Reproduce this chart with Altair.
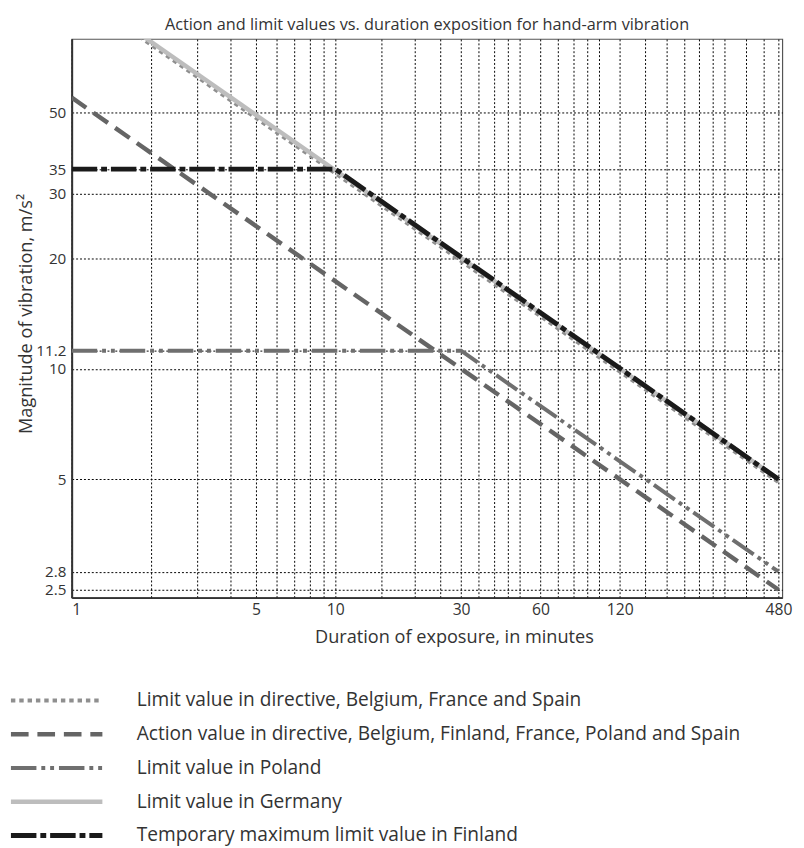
import altair as alt
import pandas as pd

FONT = "Open Sans"
TEXT_COLOR = "#333333"

TITLE = "Action and limit values vs. duration exposition for hand-arm vibration"
X_TITLE = "Duration of exposure, in minutes"
Y_TITLE = "Magnitude of vibration,  m/s²"

series_names = [
    "Limit value in directive, Belgium, France and Spain",
    "Action value in directive, Belgium, Finland, France, Poland and Spain",
    "Limit value in Poland",
    "Limit value in Germany",
    "Temporary maximum limit value in Finland",
]

# values (minutes, m/s²)
directive_t = [1.8, 480]
directive_a = [82.0, 5.0]
action_t = [1, 480]
action_a = [54.8, 2.5]
poland_t = [1, 30, 480]
poland_a = [11.2, 11.2, 2.8]
germany_t = [1.8, 480]
germany_a = [82.0, 5.0]
finland_t = [1, 10, 480]
finland_a = [35.0, 35.0, 5.0]

x_grid = [1, 2, 3, 4, 5, 6, 7, 8, 9, 10, 15, 20, 25, 30, 35, 40, 45, 50, 60, 70,
          80, 90, 100, 120, 150, 180, 210, 240, 270, 300, 360, 420, 480]
x_labels = [1, 5, 10, 30, 60, 120, 480]
y_ticks = [2.5, 2.8, 5, 10, 11.2, 20, 30, 35, 50]

# styles (kept apart from data)
styles = [
    dict(color="#8f8f8f", width=4, dash=[4.5, 4], yOffset=3),
    dict(color="#656565", width=4.5, dash=[18, 9]),
    dict(color="#6f6f6f", width=4, dash=[26, 5, 4, 5, 4, 5]),
    dict(color="#bdbdbd", width=4.5, dash=None),
    dict(color="#1a1a1a", width=5, dash=[26, 4, 6, 4]),
]
draw_order = [0, 3, 1, 2, 4]

rows = []
for name, ts, vs in zip(series_names,
                        [directive_t, action_t, poland_t, germany_t, finland_t],
                        [directive_a, action_a, poland_a, germany_a, finland_a]):
    for t, a in zip(ts, vs):
        rows.append({"series": name, "t": t, "a": a})
df = pd.DataFrame(rows)

label_list = "[" + ",".join(str(v) for v in x_labels) + "]"
x_axis = alt.Axis(
    values=x_grid, format="d",
    labelExpr=f"indexof({label_list}, datum.value) >= 0 ? datum.label : ''",
    title=X_TITLE, titleFont=FONT, titleFontSize=18.5, titleFontWeight="normal",
    titleColor=TEXT_COLOR, titleX=390, titleY=40, titleBaseline="middle", titleAlign="center",
    labelFont=FONT, labelFontSize=16, labelColor=TEXT_COLOR, labelPadding=4,
    labelOverlap=False, ticks=False, tickSize=0,
    grid=True, gridDash=[2, 2], gridColor="#000000", gridWidth=1,
    domainColor="#333333", domainWidth=2,
)
y_axis = alt.Axis(
    values=y_ticks, format="~g",
    title=Y_TITLE, titleFont=FONT, titleFontSize=18.5, titleFontWeight="normal",
    titleColor=TEXT_COLOR, titleX=-47, titleY=280, titleAngle=270,
    titleBaseline="middle", titleAlign="center",
    labelFont=FONT, labelFontSize=15.5, labelColor=TEXT_COLOR, labelPadding=6,
    labelOverlap=False, ticks=False, tickSize=0,
    grid=True, gridDash=[2, 2], gridColor="#000000", gridWidth=1,
    domainColor="#333333", domainWidth=2,
)

x_enc = alt.X("t:Q", scale=alt.Scale(type="log", domain=[1, 496], nice=False), axis=x_axis)
y_enc = alt.Y("a:Q", scale=alt.Scale(type="log", domain=[2.38, 79.2], nice=False), axis=y_axis)

line_layers = []
for i in draw_order:
    s = styles[i]
    mk = dict(clip=True, color=s["color"], strokeWidth=s["width"], strokeCap="butt",
              strokeJoin="miter")
    if s["dash"]:
        mk["strokeDash"] = s["dash"]
    if s.get("yOffset"):
        mk["yOffset"] = s["yOffset"]
    line_layers.append(
        alt.Chart(df)
        .transform_filter(alt.datum.series == series_names[i])
        .mark_line(**mk)
        .encode(x=x_enc, y=y_enc, order="t:Q")
    )

leg_df = pd.DataFrame({"series": series_names, "row": list(range(len(series_names)))})
leg_y = alt.Y("row:Q", scale=alt.Scale(domain=[0, 4], range=[675, 812.7]), axis=None)
leg_layers = []
for i, s in enumerate(styles):
    mk = dict(color=s["color"], strokeWidth=s["width"], strokeCap="butt")
    if s["dash"]:
        mk["strokeDash"] = s["dash"]
    leg_layers.append(
        alt.Chart(leg_df)
        .transform_filter(alt.datum.row == i)
        .mark_rule(**mk)
        .encode(x=alt.value(-62), x2=alt.value(31.3), y=leg_y)
    )
leg_text = alt.Chart(leg_df).mark_text(
    align="left", baseline="middle", font=FONT, fontSize=19.5, color=TEXT_COLOR
).encode(x=alt.value(66.3), y=leg_y, text="series:N")

main = alt.layer(*line_layers)
legend = alt.layer(*leg_layers, leg_text)

chart = (
    alt.layer(main, legend)
    .resolve_scale(y="independent")
    .properties(
        width=725, height=570,
        title=alt.TitleParams(TITLE, font=FONT, fontSize=16.6, fontWeight="normal",
                              color=TEXT_COLOR, anchor="middle", frame="group", offset=6),
        padding={"left": 0, "top": 0, "right": 4, "bottom": 0},
    )
    .configure_view(stroke="#555555", strokeWidth=1.2)
)

chart.save("out.html", embed_options={"renderer": "svg", "actions": False})
